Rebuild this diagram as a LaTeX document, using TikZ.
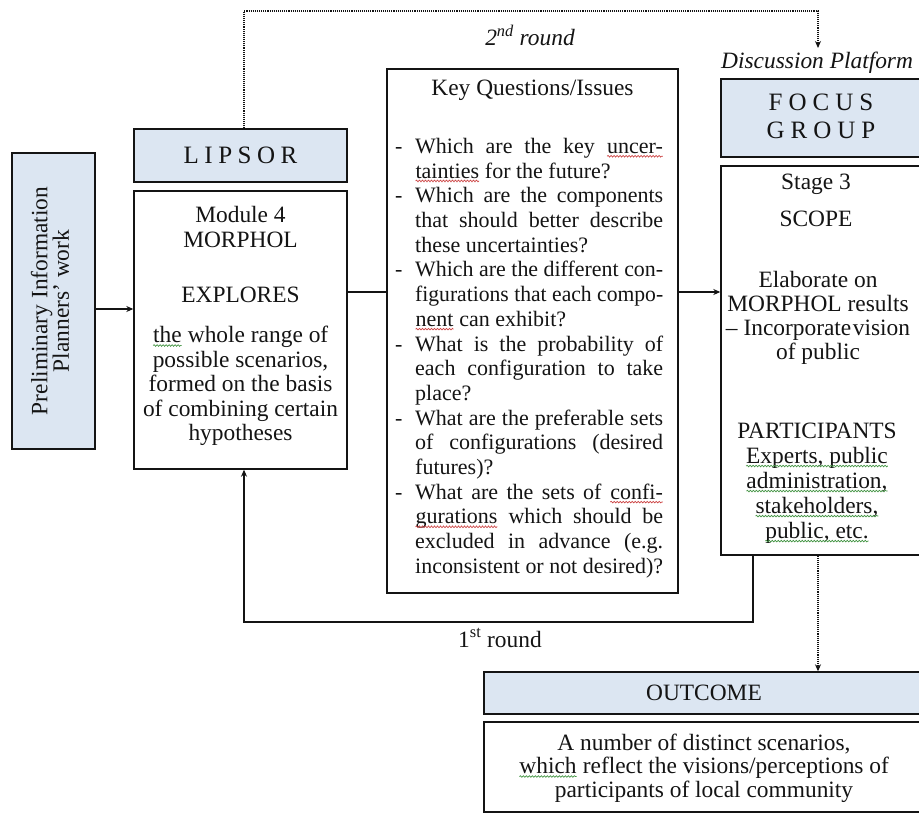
\documentclass[tikz,border=0pt]{standalone}
\usepackage{fontspec}
\setmainfont{Liberation Serif}
\usepackage{graphicx}
\usetikzlibrary{fit,arrows.meta,decorations.pathmorphing}
\definecolor{boxblue}{RGB}{220,230,242}
\definecolor{ink}{RGB}{20,20,20}
\definecolor{sqred}{RGB}{205,70,70}
\definecolor{sqgreen}{RGB}{70,150,70}
\newcommand\bodyfont{\fontsize{23.4}{24.8}\selectfont}
\newcommand\kqfont{\fontsize{22}{24.7}\selectfont}
\newcommand\sq[2]{\tikz[baseline=(w.base)]{\node[inner sep=0pt,outer sep=0pt](w){#2};\draw[#1,line width=0.7pt,decorate,decoration={snake,amplitude=0.8pt,segment length=3pt}]([yshift=-2.8pt]w.base west)--([yshift=-2.8pt]w.base east);}}
\newlength\kqw \setlength\kqw{248pt}
\newcommand\jl[1]{\setbox0=\hbox{#1}\ifdim\wd0>\kqw\resizebox{\kqw}{\height}{#1}\else\hbox to \kqw{\spaceskip=0.25em plus 1fil\relax #1}\fi}
\newcommand\dl[1]{\hbox to 20pt{-\hfil}\jl{#1}}
\newcommand\cl[1]{\hbox to 20pt{\hfil}\jl{#1}}
\newcommand\el[1]{\hbox to 20pt{\hfil}#1}
\begin{document}
\begin{tikzpicture}[x=1pt,y=-1pt,
 box/.style={draw=ink,line width=1.4pt,inner sep=0pt,fill=white},
 bluebox/.style={box,fill=boxblue},
 txt/.style={inner sep=0pt,text=ink,font=\bodyfont,align=center},
 conn/.style={draw=ink,line width=1.1pt},
 arr/.style={conn,-{Stealth[length=7pt,width=6pt]}},
 dotarr/.style={conn,densely dotted,-{Stealth[length=7pt,width=6pt]}}]
\fill[white] (0,0) rectangle (919,814);
\useasboundingbox (0,0) rectangle (919,814);

% boxes
\node[bluebox,fit={(12,153)(95,449)}] (prelim) {};
\node[bluebox,fit={(134,129)(347,182)}] (lipsor) {};
\node[box,fit={(134,191)(347,469)}] (morph) {};
\node[box,fit={(387,69)(678,593)}] (key) {};
\node[bluebox,fit={(721,79)(921,157)}] (focus) {};
\node[box,fit={(721,166)(921,555)}] (stage) {};
\node[bluebox,fit={(484,672)(921,714)}] (outcome) {};
\node[box,fit={(484,722)(921,812)}] (outtext) {};

% texts
\node[txt,rotate=90,font=\fontsize{23.4}{21.5}\selectfont] (prelimtxt) at (50,301) {Preliminary Information\\Planners’ work};
\node[txt,font=\fontsize{25}{28}\selectfont] (lipsortxt) at (240.5,155) {L\kern5.5pt I\kern5.5pt P\kern5.5pt S\kern5.5pt O\kern5.5pt R};
\node[txt,font=\fontsize{23.4}{25}\selectfont] (m1) at (240.5,226.5) {Module 4\\MORPHOL};
\node[txt] (m2) at (240.5,295) {EXPLORES};
\node[txt,font=\fontsize{23.4}{24.5}\selectfont] (m3) at (240.5,386) {\sq{sqgreen}{the} whole range of\\possible scenarios,\\formed on the basis\\of combining certain\\hypotheses};

\node[txt] (kqt) at (532.5,90) {Key Questions/Issues};
\node[txt,anchor=north west,align=left,font=\kqfont] (kql) at (395,138) {%
\dl{Which are the key \sq{sqred}{uncer-}}\\
\el{\sq{sqred}{tainties} for the future?}\\
\dl{Which are the components}\\
\cl{that should better describe}\\
\el{these uncertainties?}\\
\dl{Which are the different con-}\\
\cl{figurations that each compo-}\\
\el{\sq{sqred}{nent} can exhibit?}\\
\dl{What is the probability of}\\
\cl{each configuration to take}\\
\el{place?}\\
\dl{What are the preferable sets}\\
\cl{of configurations (desired}\\
\el{futures)?}\\
\dl{What are the sets of \sq{sqred}{confi-}}\\
\cl{\sq{sqred}{gurations} which should be}\\
\cl{excluded in advance (e.g.}\\
\cl{inconsistent or not desired)?}};

\node[txt,font=\itshape\bodyfont] (dptxt) at (721,63) [anchor=west] {Discussion Platform};
\node[txt,font=\fontsize{25}{28}\selectfont] (focustxt) at (821,116) {F\kern6pt O\kern6pt C\kern6pt U\kern6pt S\\G\kern6pt R\kern6pt O\kern6pt U\kern6pt P};
\node[txt] (s1) at (816,184) {Stage 3};
\node[txt] (s2) at (816,219) {SCOPE};
\node[txt,font=\fontsize{23.4}{24}\selectfont] (s3) at (818,318) {Elaborate on\\MORPHOL results\\– Incorporate\kern1.5pt vision\\of public};
\node[txt,font=\fontsize{23.4}{25}\selectfont] (s4) at (817,483) {PARTICIPANTS\\\sq{sqgreen}{Experts, public}\\\sq{sqgreen}{administration,}\\\sq{sqgreen}{stakeholders,}\\\sq{sqgreen}{public, etc.}};

\node[txt] (outtitle) at (704,693) {OUTCOME};
\node[txt,font=\fontsize{23.4}{23.5}\selectfont] (outbody) at (704,768) {A number of distinct scenarios,\\\sq{sqgreen}{which} reflect the visions/perceptions of\\participants of local community};

\node[txt,font=\itshape\bodyfont] (r2) at (530,35) {2\textsuperscript{nd} round};
\node[txt] (r1) at (500,638) {1\textsuperscript{st} round};

% connectors
\coordinate (row) at (0,292);
\coordinate (pa) at (0,309);
\coordinate (lb) at (244,622);
\coordinate (lr) at (753,622);
\coordinate (dtop) at (818,11);
\coordinate (dtip) at (818,48);

\draw[arr] (prelim.east |- pa) -- (morph.west |- pa);
\draw[conn] (morph.east |- row) -- (key.west |- row);
\draw[arr] (key.east |- row) -- (stage.west |- row);
\draw[arr] (stage.south -| lr) -- (lr) -- (lb) -- (morph.south -| lb);
\draw[dotarr] (lipsor.north -| lb) |- (dtop) -- (dtip);
\draw[dotarr] (stage.south -| dtop) -- (outcome.north -| dtop);
\end{tikzpicture}
\end{document}
